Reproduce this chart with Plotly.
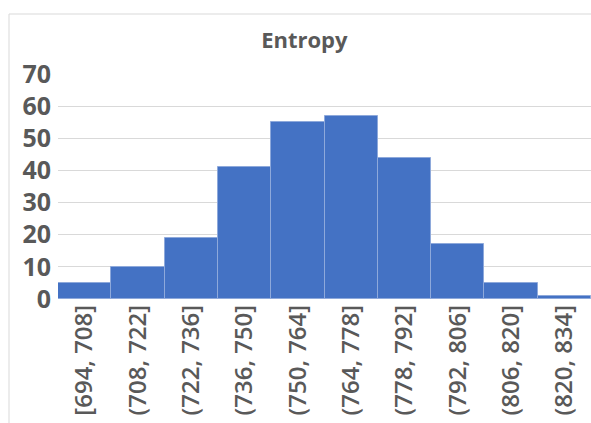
import plotly.graph_objects as go

# Histogram bins of entropy values and their counts
bins = ["[694, 708]", "(708, 722]", "(722, 736]", "(736, 750]", "(750, 764]",
        "(764, 778]", "(778, 792]", "(792, 806]", "(806, 820]", "(820, 834]"]
counts = [5, 10, 19, 41, 55, 57, 44, 17, 5, 1]
y_ticks = [0, 10, 20, 30, 40, 50, 60, 70]

gray = "#595959"

fig = go.Figure(
    go.Bar(
        x=bins,
        y=counts,
        marker=dict(color="#4472C4", line=dict(color="#8EA9DB", width=1)),
    )
)

fig.update_layout(
    width=591,
    height=423,
    margin=dict(l=58, r=0, t=74, b=124),
    paper_bgcolor="white",
    plot_bgcolor="white",
    bargap=0,
    showlegend=False,
    title=dict(
        text="<b>Entropy</b>",
        x=0.515,
        xanchor="center",
        y=0.905,
        yanchor="middle",
        font=dict(family="Open Sans", size=22, color=gray),
    ),
    xaxis=dict(
        tickangle=-90,
        tickfont=dict(family="Open Sans", size=24, color=gray, weight=600),
        showgrid=False,
        showline=False,
        ticks="",
        range=[-0.5, 9.5],
    ),
    yaxis=dict(
        range=[0, 70],
        tickvals=y_ticks,
        ticktext=[f"<b>{v}</b>" for v in y_ticks],
        tickfont=dict(family="Open Sans", size=25, color=gray),
        ticklabelstandoff=6,
        showgrid=True,
        gridcolor="#d9d9d9",
        gridwidth=1,
        zeroline=False,
        showline=False,
        ticks="",
    ),
    shapes=[
        dict(
            type="rect",
            xref="paper", yref="paper",
            x0=-49 / 533, x1=1.2,
            y0=-0.9, y1=1 + 60 / 225,
            line=dict(color="#d9d9d9", width=1),
            fillcolor="rgba(0,0,0,0)",
            layer="below",
        )
    ],
)

fig.write_html("out.html")
